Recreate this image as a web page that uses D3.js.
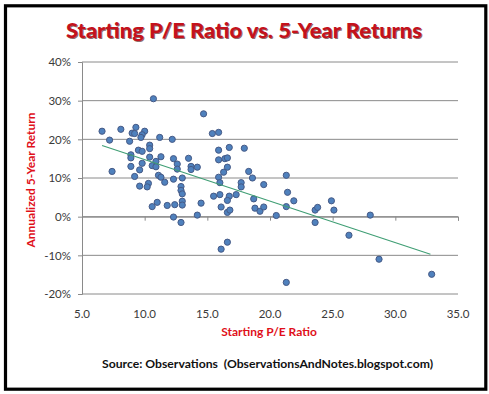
<!DOCTYPE html>
<html>
<head>
<meta charset="utf-8">
<script src="https://cdn.jsdelivr.net/npm/d3@7"></script>
<style>
  body { margin: 0; background: #fff; }
  svg { display: block; }
</style>
</head>
<body>
<svg id="chart" width="489" height="394"></svg>
<script>
// starting P/E ratio of each observation
var peRatio = [10.7, 6.6, 8.1, 9.3, 9.0, 9.2, 10.0, 9.8, 9.7, 11.2, 12.2, 7.2, 8.8, 10.4, 10.4, 9.5, 9.8,
  8.9, 8.9, 10.4, 11.3, 12.3, 10.9, 10.6, 9.8, 8.9, 9.6, 10.9, 12.6, 12.6, 7.4, 9.2, 11.1, 11.3, 13.0,
  12.3, 11.6, 10.3, 10.2, 9.6, 12.9, 12.9, 13.0, 13.0, 13.0, 11.0, 10.6, 11.8, 12.4, 12.3, 12.9,
  14.7, 15.4, 15.9, 13.5, 13.7, 14.2, 13.7, 14.5, 14.2, 15.9, 15.9, 15.9, 16.0, 16.0, 15.5, 16.1,
  16.75, 16.4, 16.6, 16.6, 16.3, 16.75, 16.6, 16.6, 16.8, 16.6, 16.1, 17.3, 17.95, 17.7, 17.7,
  18.3, 18.6, 18.7, 18.8, 19.2, 19.5, 19.5, 20.5, 21.3, 21.4, 21.9, 21.3, 21.3, 23.6, 23.8, 23.6,
  24.9, 25.1, 26.3, 28.0, 28.7, 32.9];
// annualized 5-year return that followed, in percent
var fiveYearReturn = [30.5, 22.1, 22.6, 23.1, 21.6, 21.5, 22.1, 21.2, 20.5, 20.5, 20.0, 19.8, 19.5, 18.5, 17.6, 17.2, 16.9,
  16.0, 15.2, 15.4, 15.5, 15.0, 14.3, 13.2, 13.8, 13.0, 12.1, 12.9, 13.6, 12.3, 11.7, 10.4, 10.7, 10.2, 10.0,
  9.7, 8.9, 8.6, 7.7, 7.9, 7.8, 6.8, 5.9, 4.0, 3.0, 3.7, 2.6, 2.9, 3.1, -0.1, -1.5,
  26.6, 21.5, 21.8, 15.1, 13.0, 12.8, 12.2, 3.5, 0.4, 17.2, 14.7, 10.2, 8.8, 5.7, 5.3, 2.5,
  17.9, 15.0, 15.2, 12.8, 11.5, 5.3, 4.2, 1.1, 1.7, -6.6, -8.4, 5.7, 17.7, 8.8, 7.7,
  11.7, 10.0, 4.6, 2.2, 1.4, 2.5, 8.3, 0.3, 10.7, 6.3, 4.1, 2.6, -17.0, 1.7, 2.4, -1.5,
  4.1, 1.7, -4.8, 0.4, -11.0, -14.9];

// linear trendline ends
var trendX = [6.6, 32.8];
var trendY = [18.4, -9.7];

var xTicks = [5, 10, 15, 20, 25, 30, 35];
var yTicks = [-20, -10, 0, 10, 20, 30, 40];

var titleText = "Starting P/E Ratio vs. 5-Year Returns";
var xTitle = "Starting P/E Ratio";
var yTitle = "Annualized 5-Year Return";
var sourceText = "Source: Observations  (ObservationsAndNotes.blogspot.com)";

var svg = d3.select("#chart");

var x = d3.scaleLinear().domain([5, 35]).range([82, 458]);
var y = d3.scaleLinear().domain([-20, 40]).range([294, 62]);

var points = peRatio.map(function(d, i) { return {pe: d, ret: fiveYearReturn[i]}; });
var trend = trendX.map(function(d, i) { return {pe: d, ret: trendY[i]}; });

// outer frame
svg.append("rect")
  .attr("x", 5.5).attr("y", 5.8)
  .attr("width", 480.3).attr("height", 383.4)
  .attr("fill", "#fff")
  .attr("stroke", "#000")
  .attr("stroke-width", 3.2);

// title with a dark shadow
[["#4a0a0a", 1], ["#c4121c", 0]].forEach(function(s) {
  svg.append("text")
    .attr("x", 244 + s[1]).attr("y", 38 + s[1])
    .attr("text-anchor", "middle")
    .attr("textLength", 356)
    .attr("lengthAdjust", "spacingAndGlyphs")
    .attr("font-family", "Lato, 'Open Sans', sans-serif")
    .attr("font-weight", "900")
    .attr("font-size", 21)
    .attr("fill", s[0])
    .attr("opacity", s[1] ? 0.6 : 1)
    .text(titleText);
});

// horizontal gridlines
svg.append("g")
  .selectAll("line")
  .data(yTicks)
  .enter()
  .append("line")
  .attr("x1", x(5)).attr("x2", x(35))
  .attr("y1", d => y(d)).attr("y2", d => y(d))
  .attr("stroke", "#8a8a8a")
  .attr("stroke-width", 1);

// y axis
var yAxis = svg.append("g")
  .attr("transform", "translate(" + x(5) + ",0)")
  .call(d3.axisLeft(y).tickValues(yTicks).tickSize(4).tickPadding(7).tickFormat(d => d + "%"));
yAxis.select(".domain").attr("stroke", "#8a8a8a");
yAxis.selectAll(".tick line").attr("stroke", "#8a8a8a");
yAxis.selectAll("text")
  .attr("font-family", "Lato, 'Open Sans', sans-serif")
  .attr("font-size", 11.5)
  .attr("fill", "#3a3a3a");

// x axis line at 0% with ticks, labels placed below the plot
var xAxis = svg.append("g")
  .attr("transform", "translate(0," + y(0) + ")")
  .call(d3.axisBottom(x).tickValues(xTicks).tickSize(4).tickFormat(""));
xAxis.select(".domain").attr("stroke", "#8a8a8a");
xAxis.selectAll(".tick line").attr("stroke", "#8a8a8a");

svg.append("g")
  .selectAll("text")
  .data(xTicks)
  .enter()
  .append("text")
  .attr("x", d => x(d))
  .attr("y", 318)
  .attr("text-anchor", "middle")
  .attr("font-family", "Lato, 'Open Sans', sans-serif")
  .attr("font-size", 11.5)
  .attr("fill", "#3a3a3a")
  .text(d => d3.format(".1f")(d));

// axis titles
svg.append("text")
  .attr("x", 269).attr("y", 336)
  .attr("text-anchor", "middle")
  .attr("font-family", "Lato, 'Open Sans', sans-serif")
  .attr("font-weight", "bold")
  .attr("font-size", 12)
  .attr("fill", "#e0101a")
  .text(xTitle);

svg.append("text")
  .attr("transform", "translate(35,180) rotate(-90)")
  .attr("text-anchor", "middle")
  .attr("font-family", "Lato, 'Open Sans', sans-serif")
  .attr("font-weight", "bold")
  .attr("font-size", 12)
  .attr("fill", "#e0101a")
  .text(yTitle);

// scatter points
svg.append("g")
  .selectAll("circle")
  .data(points)
  .enter()
  .append("circle")
  .attr("cx", d => x(d.pe))
  .attr("cy", d => y(d.ret))
  .attr("r", 3.1)
  .attr("fill", "#4f81bd")
  .attr("stroke", "#465a86")
  .attr("stroke-width", 1);

// trendline
svg.append("path")
  .datum(trend)
  .attr("fill", "none")
  .attr("stroke", "#3f9e74")
  .attr("stroke-width", 1.1)
  .attr("d", d3.line().x(d => x(d.pe)).y(d => y(d.ret)));

// source note
svg.append("text")
  .attr("x", 102).attr("y", 368)
  .attr("textLength", 331)
  .attr("lengthAdjust", "spacingAndGlyphs")
  .attr("font-family", "Lato, 'Open Sans', sans-serif")
  .attr("font-weight", "bold")
  .attr("font-size", 11.5)
  .attr("fill", "#111")
  .style("white-space", "pre")
  .text(sourceText);
</script>
</body>
</html>
